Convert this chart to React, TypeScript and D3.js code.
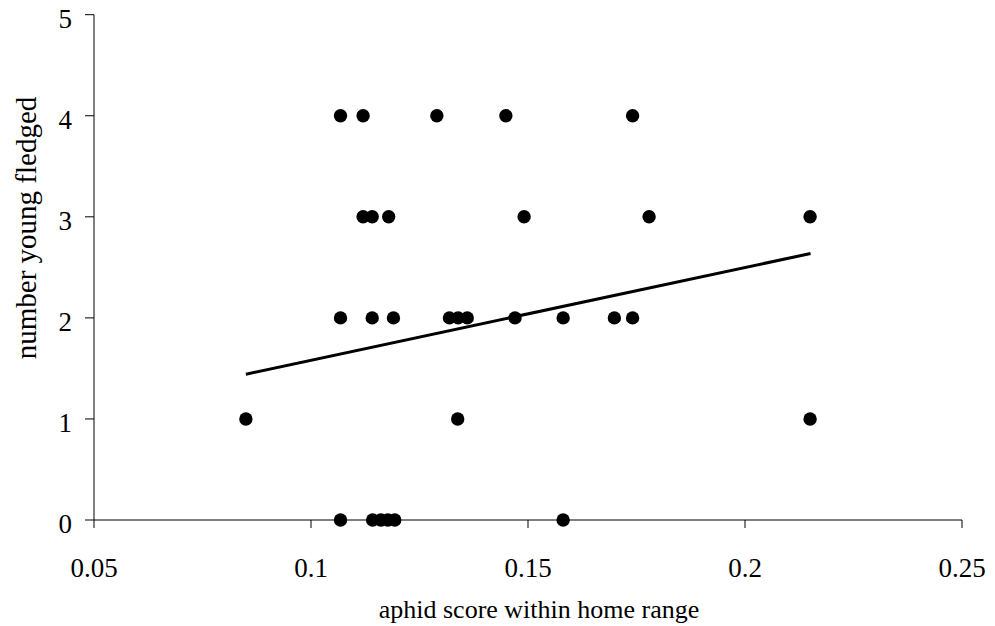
import React from "react";
import * as d3 from "d3";

// aphid score within home range
const xValues = [
  0.1068, 0.1120, 0.1290, 0.1449, 0.1741,
  0.1120, 0.1141, 0.1179, 0.1491, 0.1779, 0.2150,
  0.1068, 0.1141, 0.1190, 0.1319, 0.1339, 0.1360, 0.1470, 0.1581, 0.1699, 0.1741,
  0.0850, 0.1338, 0.2150,
  0.1068, 0.1142, 0.1161, 0.1177, 0.1193, 0.1581,
];
// number young fledged
const yValues = [
  4, 4, 4, 4, 4,
  3, 3, 3, 3, 3, 3,
  2, 2, 2, 2, 2, 2, 2, 2, 2, 2,
  1, 1, 1,
  0, 0, 0, 0, 0, 0,
];
const trendX = [0.085, 0.2151];
const trendY = [1.443, 2.637];
const xTicks = [0.05, 0.1, 0.15, 0.2, 0.25];
const xTickLabels = ["0.05", "0.1", "0.15", "0.2", "0.25"];
const yTicks = [0, 1, 2, 3, 4, 5];
const xTitle = "aphid score within home range";
const yTitle = "number young fledged";

export default function App() {
  const W = 995, H = 626;
  const x = d3.scaleLinear().domain([0.05, 0.25]).range([94, 962]);
  const y = d3.scaleLinear().domain([0, 5]).range([520, 14.7]);
  const font = "'Liberation Serif', 'Times New Roman', serif";
  const line = d3.line<number>().x((_, i) => x(trendX[i])).y((_, i) => y(trendY[i]));
  return (
    <svg width={W} height={H} style={{ position: "absolute", left: 0, top: 0, background: "#fff" }}>
      {/* y axis */}
      <line x1={94} x2={94} y1={y(5)} y2={y(0)} stroke="#000" strokeWidth={1} />
      {yTicks.map((t) => (
        <g key={"yt" + t}>
          <line x1={85} x2={94} y1={y(t)} y2={y(t)} stroke="#000" strokeWidth={1} />
          <text x={72} y={y(t) + 13} textAnchor="end" fontFamily={font} fontSize={27} fill="#000">
            {t}
          </text>
        </g>
      ))}
      {/* x axis */}
      <line x1={x(0.05)} x2={x(0.25)} y1={y(0)} y2={y(0)} stroke="#000" strokeWidth={1} />
      {xTicks.map((t, i) => (
        <g key={"xt" + t}>
          <line x1={x(t)} x2={x(t)} y1={y(0)} y2={y(0) + 8} stroke="#000" strokeWidth={1} />
          <text x={x(t)} y={577} textAnchor="middle" fontFamily={font} fontSize={27} fill="#000">
            {xTickLabels[i]}
          </text>
        </g>
      ))}
      {/* trend line */}
      <path d={line(trendX) || ""} fill="none" stroke="#000" strokeWidth={3} />
      {/* points */}
      {xValues.map((v, i) => (
        <circle key={"p" + i} cx={x(v)} cy={y(yValues[i])} r={6.7} fill="#000" />
      ))}
      <text x={539} y={618} textAnchor="middle" fontFamily={font} fontSize={26} fill="#000">
        {xTitle}
      </text>
      <text
        transform={`translate(36,228) rotate(-90)`}
        textAnchor="middle"
        fontFamily={font}
        fontSize={29}
        fill="#000"
      >
        {yTitle}
      </text>
    </svg>
  );
}
